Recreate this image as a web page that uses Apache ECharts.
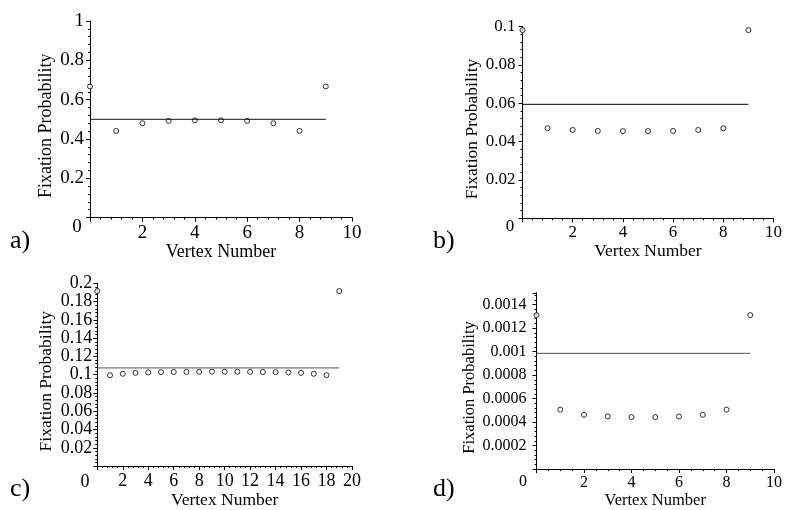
<!DOCTYPE html>
<html>
<head>
<meta charset="utf-8">
<script src="https://cdn.jsdelivr.net/npm/echarts@6/dist/echarts.min.js"></script>
<style>
    html, body {margin: 0; padding: 0; background: #fff;}
    #chart {width: 785px; height: 510px;}
</style>
</head>
<body>
<div id="chart"></div>
<script>
// vertex numbers
const vertices10 = [0, 1, 2, 3, 4, 5, 6, 7, 8, 9]
const vertices20 = [0, 1, 2, 3, 4, 5, 6, 7, 8, 9, 10, 11, 12, 13, 14, 15, 16, 17, 18, 19]

// fixation probability per vertex
const fixationA = [0.667, 0.441, 0.48, 0.492, 0.495, 0.495, 0.492, 0.48, 0.441, 0.667]
const fixationB = [0.0982, 0.047, 0.0461, 0.0456, 0.0455, 0.0455, 0.0456, 0.0461, 0.047, 0.0982]
const fixationC = [0.1915, 0.0995, 0.101, 0.102, 0.1025, 0.1028, 0.103, 0.1031, 0.1032, 0.1033,
                   0.1033, 0.1032, 0.1031, 0.103, 0.1028, 0.1025, 0.102, 0.101, 0.0995, 0.1915]
const fixationD = [0.00131, 0.000506, 0.000462, 0.000448, 0.000443, 0.000443, 0.000448, 0.000462, 0.000506, 0.00131]

// horizontal reference level of each panel
const levelA = 0.5
const levelB = 0.0595
const levelC = 0.1074
const levelD = 0.000985

const panelLetters = ['a)', 'b)', 'c)', 'd)']

const FONT = 'Liberation Serif'

const panels = [
    {x: vertices10, y: fixationA, level: levelA, xMax: 10, yMax: 1, yStep: 0.2, xMinor: 5, lineColor: '#111',
     grid: {left: 90, top: 21, width: 262, height: 196.6},
     tickFont: 19, nameFont: 18, yMargin: 6, yGap: 35, xGap: 20},
    {x: vertices10, y: fixationB, level: levelB, xMax: 10, yMax: 0.1, yStep: 0.02, xMinor: 5, lineColor: '#000',
     grid: {left: 522.5, top: 26.7, width: 255.5, height: 191.6},
     tickFont: 17, nameFont: 17.5, yMargin: 7, yGap: 41, xGap: 19.5},
    {x: vertices20, y: fixationC, level: levelC, xMax: 20, yMax: 0.2, yStep: 0.02, xMinor: 5, lineColor: '#555',
     grid: {left: 97.3, top: 283.3, width: 254.7, height: 190},
     tickFont: 18, nameFont: 17.5, yMargin: 5, yGap: 41.5, xGap: 19.5},
    {x: vertices10, y: fixationD, level: levelD, xMax: 10, yMax: 0.0015, yStep: 0.0002, xMinor: 4, lineColor: '#555',
     grid: {left: 536.5, top: 292.8, width: 241.5, height: 183.1},
     tickFont: 16, nameFont: 16.5, yMargin: 10, yGap: 56, xGap: 17.5},
]

// corner "0" and panel letter positions
const zeroPos = [[77, 227], [510, 227], [85, 482], [523, 482]]
const letterPos = [[10, 241], [433, 241], [10, 489], [433, 489]]

const onStep = (v, step) => Math.abs(v / step - Math.round(v / step)) < 1e-6

const buildOption = () => {
    const grids = [], xAxes = [], yAxes = [], series = [], graphics = []
    panels.forEach((p, i) => {
        grids.push(p.grid)
        xAxes.push({
            type: 'value', gridIndex: i, min: 0, max: p.xMax, interval: 2,
            name: 'Vertex Number', nameLocation: 'middle', nameGap: p.xGap,
            nameTextStyle: {fontFamily: FONT, fontSize: p.nameFont, color: '#000'},
            axisLine: {show: true, onZero: false, lineStyle: {color: '#000', width: 1}},
            axisTick: {show: true, length: 4, lineStyle: {color: '#000'}},
            minorTick: {show: true, splitNumber: p.xMinor, length: 2, lineStyle: {color: '#000'}},
            splitLine: {show: false},
            axisLabel: {
                fontFamily: FONT, fontSize: p.tickFont, color: '#000', margin: 6,
                formatter: (v) => v === 0 ? '' : String(v),
            },
        })
        yAxes.push({
            type: 'value', gridIndex: i, min: 0, max: p.yMax, interval: p.yStep,
            name: 'Fixation Probability', nameLocation: 'middle', nameGap: p.yGap,
            nameTextStyle: {fontFamily: FONT, fontSize: p.nameFont, color: '#000', padding: [0, 13, 0, 0]},
            axisLine: {show: true, onZero: false, lineStyle: {color: '#000', width: 1}},
            axisTick: {show: true, length: 4, lineStyle: {color: '#000'}},
            minorTick: {show: true, splitNumber: 5, length: 2, lineStyle: {color: '#000'}},
            splitLine: {show: false},
            axisLabel: {
                fontFamily: FONT, fontSize: p.tickFont, color: '#000', margin: p.yMargin,
                formatter: (v) => (v === 0 || !onStep(v, p.yStep)) ? '' : String(+v.toPrecision(6)),
            },
        })
        // horizontal level line
        series.push({
            type: 'line', xAxisIndex: i, yAxisIndex: i, symbol: 'none', silent: true,
            lineStyle: {color: p.lineColor, width: 1},
            data: [[p.x[0], p.level], [p.x[p.x.length - 1], p.level]],
        })
        // per-vertex fixation probabilities
        series.push({
            type: 'scatter', xAxisIndex: i, yAxisIndex: i, symbol: 'circle', symbolSize: 5,
            itemStyle: {color: '#fff', borderColor: '#000', borderWidth: 1},
            data: p.x.map((v, k) => [v, p.y[k]]),
        })
        graphics.push({
            type: 'text', x: zeroPos[i][0], y: zeroPos[i][1],
            style: {text: '0', font: `${p.tickFont}px "${FONT}"`, fill: '#000',
                    textAlign: 'center', textVerticalAlign: 'middle'},
        })
        graphics.push({
            type: 'text', x: letterPos[i][0], y: letterPos[i][1],
            style: {text: panelLetters[i], font: `26px "${FONT}"`, fill: '#000',
                    textAlign: 'left', textVerticalAlign: 'middle'},
        })
    })
    return {
        backgroundColor: '#fff',
        animation: false,
        grid: grids,
        xAxis: xAxes,
        yAxis: yAxes,
        series: series,
        graphic: graphics,
    }
}

const chart = echarts.init(document.getElementById('chart'))
chart.setOption(buildOption())
</script>
</body>
</html>
